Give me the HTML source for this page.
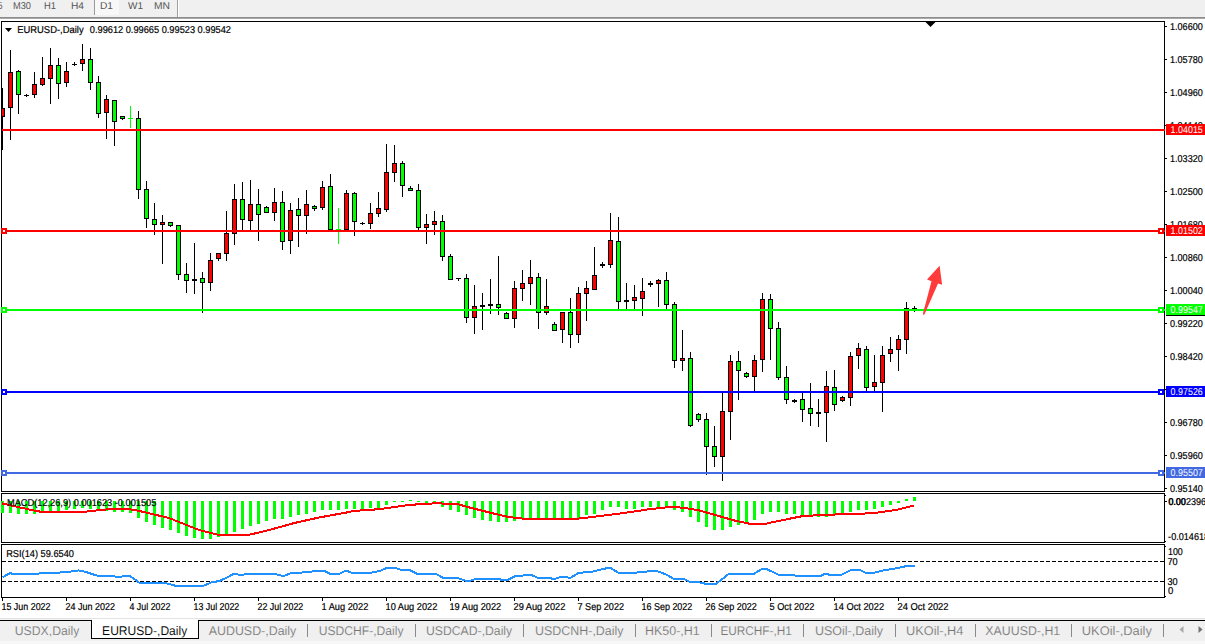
<!DOCTYPE html>
<html><head><meta charset="utf-8"><title>EURUSD-,Daily</title>
<style>html,body{margin:0;padding:0;background:#fff;overflow:hidden}body{width:1205px;height:644px;position:relative;font-family:"Liberation Sans",sans-serif}svg text{font-family:"Liberation Sans",sans-serif}</style></head>
<body>
<svg width="1205" height="644" viewBox="0 0 1205 644" style="position:absolute;left:0;top:0" font-family="Liberation Sans, sans-serif" text-rendering="geometricPrecision">
<g shape-rendering="crispEdges">
<rect x="0" y="0" width="1205" height="644" fill="#ffffff"/>
<rect x="0" y="0" width="1205" height="17" fill="#f0f0f0"/>
<rect x="0" y="17" width="1205" height="1" fill="#8c8c8c"/>
<rect x="0" y="18" width="1205" height="1" fill="#a8a8a8"/>
<rect x="95" y="0" width="24" height="15" fill="#f8f8f8"/>
<rect x="94" y="0" width="1" height="15" fill="#9a9a9a"/>
<rect x="177" y="0" width="1" height="17" fill="#a0a0a0"/>
<rect x="178" y="0" width="1" height="17" fill="#ffffff"/>
<g><rect x="2" y="88" width="1" height="62" fill="#000"/><rect x="0" y="108" width="5" height="9" fill="#000"/><rect x="1" y="109" width="3" height="7" fill="#ff0000"/><rect x="10" y="50" width="1" height="90" fill="#000"/><rect x="8" y="72" width="5" height="36" fill="#000"/><rect x="9" y="73" width="3" height="34" fill="#ff0000"/><rect x="18" y="70" width="1" height="44" fill="#000"/><rect x="16" y="71" width="5" height="24" fill="#000"/><rect x="17" y="72" width="3" height="22" fill="#00ff00"/><rect x="26" y="94" width="1" height="3" fill="#000"/><rect x="24" y="95" width="5" height="1" fill="#000"/><rect x="34" y="72" width="1" height="26" fill="#000"/><rect x="32" y="84" width="5" height="11" fill="#000"/><rect x="33" y="85" width="3" height="9" fill="#ff0000"/><rect x="42" y="57" width="1" height="29" fill="#000"/><rect x="40" y="78" width="5" height="7" fill="#000"/><rect x="41" y="79" width="3" height="5" fill="#ff0000"/><rect x="50" y="48" width="1" height="56" fill="#000"/><rect x="48" y="65" width="5" height="14" fill="#000"/><rect x="49" y="66" width="3" height="12" fill="#ff0000"/><rect x="58" y="58" width="1" height="41" fill="#000"/><rect x="56" y="65" width="5" height="19" fill="#000"/><rect x="57" y="66" width="3" height="17" fill="#00ff00"/><rect x="66" y="62" width="1" height="25" fill="#000"/><rect x="64" y="71" width="5" height="12" fill="#000"/><rect x="65" y="72" width="3" height="10" fill="#ff0000"/><rect x="74" y="62" width="1" height="4" fill="#000"/><rect x="72" y="64" width="5" height="1" fill="#000"/><rect x="82" y="44" width="1" height="27" fill="#000"/><rect x="80" y="59" width="5" height="5" fill="#000"/><rect x="81" y="60" width="3" height="3" fill="#ff0000"/><rect x="90" y="48" width="1" height="42" fill="#000"/><rect x="88" y="59" width="5" height="24" fill="#000"/><rect x="89" y="60" width="3" height="22" fill="#00ff00"/><rect x="98" y="76" width="1" height="42" fill="#000"/><rect x="96" y="82" width="5" height="32" fill="#000"/><rect x="97" y="83" width="3" height="30" fill="#00ff00"/><rect x="106" y="95" width="1" height="44" fill="#000"/><rect x="104" y="99" width="5" height="14" fill="#000"/><rect x="105" y="100" width="3" height="12" fill="#ff0000"/><rect x="114" y="100" width="1" height="46" fill="#000"/><rect x="112" y="100" width="5" height="22" fill="#000"/><rect x="113" y="101" width="3" height="20" fill="#00ff00"/><rect x="122" y="116" width="1" height="4" fill="#000"/><rect x="120" y="116" width="5" height="3" fill="#000"/><rect x="121" y="117" width="3" height="1" fill="#00ff00"/><rect x="130" y="106" width="1" height="22" fill="#00ff00"/><rect x="128" y="118" width="5" height="1" fill="#00ff00"/><rect x="138" y="111" width="1" height="88" fill="#000"/><rect x="136" y="118" width="5" height="72" fill="#000"/><rect x="137" y="119" width="3" height="70" fill="#00ff00"/><rect x="146" y="181" width="1" height="47" fill="#000"/><rect x="144" y="189" width="5" height="30" fill="#000"/><rect x="145" y="190" width="3" height="28" fill="#00ff00"/><rect x="154" y="203" width="1" height="32" fill="#000"/><rect x="152" y="219" width="5" height="6" fill="#000"/><rect x="153" y="220" width="3" height="4" fill="#00ff00"/><rect x="162" y="215" width="1" height="49" fill="#000"/><rect x="160" y="222" width="5" height="3" fill="#000"/><rect x="161" y="223" width="3" height="1" fill="#ff0000"/><rect x="170" y="222" width="1" height="5" fill="#000"/><rect x="168" y="222" width="5" height="4" fill="#000"/><rect x="169" y="223" width="3" height="2" fill="#00ff00"/><rect x="178" y="225" width="1" height="55" fill="#000"/><rect x="176" y="225" width="5" height="50" fill="#000"/><rect x="177" y="226" width="3" height="48" fill="#00ff00"/><rect x="186" y="263" width="1" height="30" fill="#000"/><rect x="184" y="274" width="5" height="7" fill="#000"/><rect x="185" y="275" width="3" height="5" fill="#00ff00"/><rect x="194" y="243" width="1" height="51" fill="#000"/><rect x="192" y="279" width="5" height="2" fill="#000"/><rect x="202" y="272" width="1" height="41" fill="#000"/><rect x="200" y="278" width="5" height="5" fill="#000"/><rect x="201" y="279" width="3" height="3" fill="#00ff00"/><rect x="210" y="253" width="1" height="38" fill="#000"/><rect x="208" y="260" width="5" height="23" fill="#000"/><rect x="209" y="261" width="3" height="21" fill="#ff0000"/><rect x="218" y="253" width="1" height="8" fill="#000"/><rect x="216" y="253" width="5" height="6" fill="#000"/><rect x="217" y="254" width="3" height="4" fill="#ff0000"/><rect x="226" y="211" width="1" height="50" fill="#000"/><rect x="224" y="233" width="5" height="21" fill="#000"/><rect x="225" y="234" width="3" height="19" fill="#ff0000"/><rect x="234" y="184" width="1" height="61" fill="#000"/><rect x="232" y="199" width="5" height="35" fill="#000"/><rect x="233" y="200" width="3" height="33" fill="#ff0000"/><rect x="242" y="182" width="1" height="48" fill="#000"/><rect x="240" y="199" width="5" height="21" fill="#000"/><rect x="241" y="200" width="3" height="19" fill="#00ff00"/><rect x="250" y="180" width="1" height="50" fill="#000"/><rect x="248" y="204" width="5" height="17" fill="#000"/><rect x="249" y="205" width="3" height="15" fill="#ff0000"/><rect x="258" y="189" width="1" height="52" fill="#000"/><rect x="256" y="204" width="5" height="11" fill="#000"/><rect x="257" y="205" width="3" height="9" fill="#00ff00"/><rect x="266" y="206" width="1" height="6" fill="#000"/><rect x="264" y="207" width="5" height="6" fill="#000"/><rect x="265" y="208" width="3" height="4" fill="#00ff00"/><rect x="274" y="188" width="1" height="33" fill="#000"/><rect x="272" y="202" width="5" height="11" fill="#000"/><rect x="273" y="203" width="3" height="9" fill="#ff0000"/><rect x="282" y="191" width="1" height="59" fill="#000"/><rect x="280" y="202" width="5" height="40" fill="#000"/><rect x="281" y="203" width="3" height="38" fill="#00ff00"/><rect x="290" y="203" width="1" height="51" fill="#000"/><rect x="288" y="210" width="5" height="31" fill="#000"/><rect x="289" y="211" width="3" height="29" fill="#ff0000"/><rect x="298" y="198" width="1" height="49" fill="#000"/><rect x="296" y="209" width="5" height="7" fill="#000"/><rect x="297" y="210" width="3" height="5" fill="#00ff00"/><rect x="306" y="190" width="1" height="44" fill="#000"/><rect x="304" y="204" width="5" height="12" fill="#000"/><rect x="305" y="205" width="3" height="10" fill="#ff0000"/><rect x="314" y="205" width="1" height="6" fill="#000"/><rect x="312" y="206" width="5" height="3" fill="#000"/><rect x="313" y="207" width="3" height="1" fill="#00ff00"/><rect x="322" y="181" width="1" height="29" fill="#000"/><rect x="320" y="187" width="5" height="21" fill="#000"/><rect x="321" y="188" width="3" height="19" fill="#ff0000"/><rect x="330" y="174" width="1" height="56" fill="#000"/><rect x="328" y="186" width="5" height="44" fill="#000"/><rect x="329" y="187" width="3" height="42" fill="#00ff00"/><rect x="338" y="208" width="1" height="36" fill="#00ff00"/><rect x="336" y="229" width="5" height="1" fill="#00ff00"/><rect x="346" y="190" width="1" height="40" fill="#000"/><rect x="344" y="193" width="5" height="37" fill="#000"/><rect x="345" y="194" width="3" height="35" fill="#ff0000"/><rect x="354" y="192" width="1" height="44" fill="#000"/><rect x="352" y="193" width="5" height="29" fill="#000"/><rect x="353" y="194" width="3" height="27" fill="#00ff00"/><rect x="362" y="222" width="1" height="3" fill="#000"/><rect x="360" y="223" width="5" height="1" fill="#000"/><rect x="370" y="203" width="1" height="26" fill="#000"/><rect x="368" y="213" width="5" height="11" fill="#000"/><rect x="369" y="214" width="3" height="9" fill="#ff0000"/><rect x="378" y="192" width="1" height="25" fill="#000"/><rect x="376" y="208" width="5" height="6" fill="#000"/><rect x="377" y="209" width="3" height="4" fill="#ff0000"/><rect x="386" y="144" width="1" height="68" fill="#000"/><rect x="384" y="172" width="5" height="38" fill="#000"/><rect x="385" y="173" width="3" height="36" fill="#ff0000"/><rect x="394" y="145" width="1" height="37" fill="#000"/><rect x="392" y="163" width="5" height="10" fill="#000"/><rect x="393" y="164" width="3" height="8" fill="#ff0000"/><rect x="402" y="161" width="1" height="36" fill="#000"/><rect x="400" y="163" width="5" height="23" fill="#000"/><rect x="401" y="164" width="3" height="21" fill="#00ff00"/><rect x="410" y="186" width="1" height="4" fill="#000"/><rect x="408" y="188" width="5" height="3" fill="#000"/><rect x="409" y="189" width="3" height="1" fill="#00ff00"/><rect x="418" y="184" width="1" height="46" fill="#000"/><rect x="416" y="190" width="5" height="38" fill="#000"/><rect x="417" y="191" width="3" height="36" fill="#00ff00"/><rect x="426" y="214" width="1" height="30" fill="#000"/><rect x="424" y="224" width="5" height="4" fill="#000"/><rect x="425" y="225" width="3" height="2" fill="#ff0000"/><rect x="434" y="211" width="1" height="24" fill="#000"/><rect x="432" y="221" width="5" height="4" fill="#000"/><rect x="433" y="222" width="3" height="2" fill="#ff0000"/><rect x="442" y="215" width="1" height="46" fill="#000"/><rect x="440" y="221" width="5" height="36" fill="#000"/><rect x="441" y="222" width="3" height="34" fill="#00ff00"/><rect x="450" y="254" width="1" height="26" fill="#000"/><rect x="448" y="256" width="5" height="24" fill="#000"/><rect x="449" y="257" width="3" height="22" fill="#00ff00"/><rect x="458" y="279" width="1" height="2" fill="#000"/><rect x="456" y="278" width="5" height="1" fill="#000"/><rect x="466" y="274" width="1" height="49" fill="#000"/><rect x="464" y="278" width="5" height="40" fill="#000"/><rect x="465" y="279" width="3" height="38" fill="#00ff00"/><rect x="474" y="285" width="1" height="49" fill="#000"/><rect x="472" y="306" width="5" height="12" fill="#000"/><rect x="473" y="307" width="3" height="10" fill="#ff0000"/><rect x="482" y="293" width="1" height="37" fill="#000"/><rect x="480" y="305" width="5" height="2" fill="#000"/><rect x="490" y="279" width="1" height="35" fill="#000"/><rect x="488" y="304" width="5" height="2" fill="#000"/><rect x="498" y="256" width="1" height="59" fill="#000"/><rect x="496" y="304" width="5" height="4" fill="#000"/><rect x="497" y="305" width="3" height="2" fill="#00ff00"/><rect x="506" y="312" width="1" height="7" fill="#000"/><rect x="504" y="313" width="5" height="6" fill="#000"/><rect x="505" y="314" width="3" height="4" fill="#00ff00"/><rect x="514" y="281" width="1" height="47" fill="#000"/><rect x="512" y="288" width="5" height="31" fill="#000"/><rect x="513" y="289" width="3" height="29" fill="#ff0000"/><rect x="522" y="270" width="1" height="31" fill="#000"/><rect x="520" y="283" width="5" height="6" fill="#000"/><rect x="521" y="284" width="3" height="4" fill="#ff0000"/><rect x="530" y="260" width="1" height="45" fill="#000"/><rect x="528" y="277" width="5" height="7" fill="#000"/><rect x="529" y="278" width="3" height="5" fill="#ff0000"/><rect x="538" y="273" width="1" height="56" fill="#000"/><rect x="536" y="277" width="5" height="36" fill="#000"/><rect x="537" y="278" width="3" height="34" fill="#00ff00"/><rect x="546" y="279" width="1" height="36" fill="#000"/><rect x="544" y="306" width="5" height="7" fill="#000"/><rect x="545" y="307" width="3" height="5" fill="#ff0000"/><rect x="554" y="322" width="1" height="9" fill="#000"/><rect x="552" y="324" width="5" height="7" fill="#000"/><rect x="553" y="325" width="3" height="5" fill="#00ff00"/><rect x="562" y="312" width="1" height="31" fill="#000"/><rect x="560" y="312" width="5" height="18" fill="#000"/><rect x="561" y="313" width="3" height="16" fill="#ff0000"/><rect x="570" y="298" width="1" height="50" fill="#000"/><rect x="568" y="312" width="5" height="23" fill="#000"/><rect x="569" y="313" width="3" height="21" fill="#00ff00"/><rect x="578" y="287" width="1" height="56" fill="#000"/><rect x="576" y="293" width="5" height="42" fill="#000"/><rect x="577" y="294" width="3" height="40" fill="#ff0000"/><rect x="586" y="281" width="1" height="40" fill="#000"/><rect x="584" y="288" width="5" height="6" fill="#000"/><rect x="585" y="289" width="3" height="4" fill="#ff0000"/><rect x="594" y="247" width="1" height="43" fill="#000"/><rect x="592" y="275" width="5" height="15" fill="#000"/><rect x="593" y="276" width="3" height="13" fill="#ff0000"/><rect x="602" y="262" width="1" height="6" fill="#000"/><rect x="600" y="264" width="5" height="2" fill="#000"/><rect x="610" y="213" width="1" height="55" fill="#000"/><rect x="608" y="240" width="5" height="25" fill="#000"/><rect x="609" y="241" width="3" height="23" fill="#ff0000"/><rect x="618" y="217" width="1" height="92" fill="#000"/><rect x="616" y="241" width="5" height="61" fill="#000"/><rect x="617" y="242" width="3" height="59" fill="#00ff00"/><rect x="626" y="283" width="1" height="26" fill="#000"/><rect x="624" y="300" width="5" height="2" fill="#000"/><rect x="634" y="285" width="1" height="24" fill="#000"/><rect x="632" y="297" width="5" height="4" fill="#000"/><rect x="633" y="298" width="3" height="2" fill="#ff0000"/><rect x="642" y="278" width="1" height="38" fill="#000"/><rect x="640" y="291" width="5" height="8" fill="#000"/><rect x="641" y="292" width="3" height="6" fill="#ff0000"/><rect x="650" y="281" width="1" height="6" fill="#000"/><rect x="648" y="283" width="5" height="2" fill="#000"/><rect x="658" y="279" width="1" height="28" fill="#000"/><rect x="656" y="280" width="5" height="4" fill="#000"/><rect x="657" y="281" width="3" height="2" fill="#ff0000"/><rect x="666" y="272" width="1" height="37" fill="#000"/><rect x="664" y="280" width="5" height="25" fill="#000"/><rect x="665" y="281" width="3" height="23" fill="#00ff00"/><rect x="674" y="302" width="1" height="66" fill="#000"/><rect x="672" y="304" width="5" height="57" fill="#000"/><rect x="673" y="305" width="3" height="55" fill="#00ff00"/><rect x="682" y="330" width="1" height="41" fill="#000"/><rect x="680" y="358" width="5" height="3" fill="#000"/><rect x="681" y="359" width="3" height="1" fill="#ff0000"/><rect x="690" y="352" width="1" height="75" fill="#000"/><rect x="688" y="358" width="5" height="68" fill="#000"/><rect x="689" y="359" width="3" height="66" fill="#00ff00"/><rect x="698" y="413" width="1" height="9" fill="#000"/><rect x="696" y="414" width="5" height="6" fill="#000"/><rect x="697" y="415" width="3" height="4" fill="#00ff00"/><rect x="706" y="413" width="1" height="62" fill="#000"/><rect x="704" y="419" width="5" height="28" fill="#000"/><rect x="705" y="420" width="3" height="26" fill="#00ff00"/><rect x="714" y="426" width="1" height="41" fill="#000"/><rect x="712" y="446" width="5" height="11" fill="#000"/><rect x="713" y="447" width="3" height="9" fill="#00ff00"/><rect x="722" y="392" width="1" height="89" fill="#000"/><rect x="720" y="411" width="5" height="46" fill="#000"/><rect x="721" y="412" width="3" height="44" fill="#ff0000"/><rect x="730" y="355" width="1" height="85" fill="#000"/><rect x="728" y="361" width="5" height="51" fill="#000"/><rect x="729" y="362" width="3" height="49" fill="#ff0000"/><rect x="738" y="351" width="1" height="49" fill="#000"/><rect x="736" y="361" width="5" height="10" fill="#000"/><rect x="737" y="362" width="3" height="8" fill="#00ff00"/><rect x="746" y="372" width="1" height="6" fill="#000"/><rect x="744" y="373" width="5" height="4" fill="#000"/><rect x="745" y="374" width="3" height="2" fill="#00ff00"/><rect x="754" y="355" width="1" height="36" fill="#000"/><rect x="752" y="360" width="5" height="17" fill="#000"/><rect x="753" y="361" width="3" height="15" fill="#ff0000"/><rect x="762" y="293" width="1" height="79" fill="#000"/><rect x="760" y="299" width="5" height="61" fill="#000"/><rect x="761" y="300" width="3" height="59" fill="#ff0000"/><rect x="770" y="294" width="1" height="66" fill="#000"/><rect x="768" y="299" width="5" height="30" fill="#000"/><rect x="769" y="300" width="3" height="28" fill="#00ff00"/><rect x="778" y="322" width="1" height="58" fill="#000"/><rect x="776" y="328" width="5" height="50" fill="#000"/><rect x="777" y="329" width="3" height="48" fill="#00ff00"/><rect x="786" y="366" width="1" height="38" fill="#000"/><rect x="784" y="377" width="5" height="23" fill="#000"/><rect x="785" y="378" width="3" height="21" fill="#00ff00"/><rect x="794" y="399" width="1" height="4" fill="#000"/><rect x="792" y="400" width="5" height="2" fill="#000"/><rect x="802" y="392" width="1" height="30" fill="#000"/><rect x="800" y="399" width="5" height="11" fill="#000"/><rect x="801" y="400" width="3" height="9" fill="#00ff00"/><rect x="810" y="383" width="1" height="43" fill="#000"/><rect x="808" y="408" width="5" height="6" fill="#000"/><rect x="809" y="409" width="3" height="4" fill="#00ff00"/><rect x="818" y="399" width="1" height="28" fill="#000"/><rect x="816" y="412" width="5" height="2" fill="#000"/><rect x="826" y="371" width="1" height="71" fill="#000"/><rect x="824" y="386" width="5" height="27" fill="#000"/><rect x="825" y="387" width="3" height="25" fill="#ff0000"/><rect x="834" y="370" width="1" height="41" fill="#000"/><rect x="832" y="387" width="5" height="18" fill="#000"/><rect x="833" y="388" width="3" height="16" fill="#00ff00"/><rect x="842" y="396" width="1" height="6" fill="#000"/><rect x="840" y="397" width="5" height="4" fill="#000"/><rect x="841" y="398" width="3" height="2" fill="#ff0000"/><rect x="850" y="352" width="1" height="54" fill="#000"/><rect x="848" y="356" width="5" height="42" fill="#000"/><rect x="849" y="357" width="3" height="40" fill="#ff0000"/><rect x="858" y="343" width="1" height="26" fill="#000"/><rect x="856" y="348" width="5" height="8" fill="#000"/><rect x="857" y="349" width="3" height="6" fill="#ff0000"/><rect x="866" y="346" width="1" height="45" fill="#000"/><rect x="864" y="349" width="5" height="39" fill="#000"/><rect x="865" y="350" width="3" height="37" fill="#00ff00"/><rect x="874" y="355" width="1" height="36" fill="#000"/><rect x="872" y="382" width="5" height="5" fill="#000"/><rect x="873" y="383" width="3" height="3" fill="#ff0000"/><rect x="882" y="346" width="1" height="66" fill="#000"/><rect x="880" y="355" width="5" height="28" fill="#000"/><rect x="881" y="356" width="3" height="26" fill="#ff0000"/><rect x="890" y="337" width="1" height="25" fill="#000"/><rect x="888" y="349" width="5" height="5" fill="#000"/><rect x="889" y="350" width="3" height="3" fill="#ff0000"/><rect x="898" y="335" width="1" height="36" fill="#000"/><rect x="896" y="339" width="5" height="11" fill="#000"/><rect x="897" y="340" width="3" height="9" fill="#ff0000"/><rect x="906" y="302" width="1" height="52" fill="#000"/><rect x="904" y="308" width="5" height="32" fill="#000"/><rect x="905" y="309" width="3" height="30" fill="#ff0000"/><rect x="914" y="306" width="1" height="6" fill="#000"/><rect x="912" y="308" width="5" height="1" fill="#000"/></g>
<rect x="0" y="19" width="1" height="600" fill="#fff"/>
<rect x="1" y="21" width="1164" height="1" fill="#000"/><rect x="1" y="491" width="1164" height="1" fill="#000"/><rect x="1" y="21" width="1" height="471" fill="#000"/><rect x="1164" y="21" width="1" height="471" fill="#000"/>
<rect x="1" y="493" width="1164" height="1" fill="#000"/><rect x="1" y="542" width="1164" height="1" fill="#000"/><rect x="1" y="493" width="1" height="50" fill="#000"/><rect x="1164" y="493" width="1" height="50" fill="#000"/>
<rect x="1" y="544" width="1164" height="1" fill="#000"/><rect x="1" y="597" width="1164" height="1" fill="#000"/><rect x="1" y="544" width="1" height="54" fill="#000"/><rect x="1164" y="544" width="1" height="54" fill="#000"/>
<rect x="1165" y="21" width="40" height="1" fill="#fff"/>
<rect x="2" y="129" width="1163" height="2" fill="#ff0000"/>
<rect x="2" y="230" width="1163" height="2" fill="#ff0000"/>
<rect x="2" y="309" width="1163" height="2" fill="#00ff00"/>
<rect x="2" y="391" width="1163" height="2" fill="#0000ff"/>
<rect x="2" y="472" width="1163" height="2" fill="#4169e1"/>
<rect x="1" y="228" width="6" height="6" fill="#ff0000"/>
<rect x="3" y="230" width="2" height="2" fill="#fff"/>
<rect x="1158" y="228" width="6" height="6" fill="#ff0000"/>
<rect x="1160" y="230" width="2" height="2" fill="#fff"/>
<rect x="1" y="307" width="6" height="6" fill="#00ff00"/>
<rect x="3" y="309" width="2" height="2" fill="#fff"/>
<rect x="1158" y="307" width="6" height="6" fill="#00ff00"/>
<rect x="1160" y="309" width="2" height="2" fill="#fff"/>
<rect x="1" y="389" width="6" height="6" fill="#0000ff"/>
<rect x="3" y="391" width="2" height="2" fill="#fff"/>
<rect x="1158" y="389" width="6" height="6" fill="#0000ff"/>
<rect x="1160" y="391" width="2" height="2" fill="#fff"/>
<rect x="1" y="470" width="6" height="6" fill="#4169e1"/>
<rect x="3" y="472" width="2" height="2" fill="#fff"/>
<rect x="1158" y="470" width="6" height="6" fill="#4169e1"/>
<rect x="1160" y="472" width="2" height="2" fill="#fff"/>
<g><rect x="1" y="501" width="3" height="12" fill="#00ff00"/><rect x="9" y="501" width="3" height="12" fill="#00ff00"/><rect x="17" y="501" width="3" height="13" fill="#00ff00"/><rect x="25" y="501" width="3" height="13" fill="#00ff00"/><rect x="33" y="501" width="3" height="13" fill="#00ff00"/><rect x="41" y="501" width="3" height="11" fill="#00ff00"/><rect x="49" y="501" width="3" height="10" fill="#00ff00"/><rect x="57" y="501" width="3" height="10" fill="#00ff00"/><rect x="65" y="501" width="3" height="9" fill="#00ff00"/><rect x="73" y="501" width="3" height="8" fill="#00ff00"/><rect x="81" y="501" width="3" height="7" fill="#00ff00"/><rect x="89" y="501" width="3" height="8" fill="#00ff00"/><rect x="97" y="501" width="3" height="9" fill="#00ff00"/><rect x="105" y="501" width="3" height="10" fill="#00ff00"/><rect x="113" y="501" width="3" height="11" fill="#00ff00"/><rect x="121" y="501" width="3" height="11" fill="#00ff00"/><rect x="129" y="501" width="3" height="12" fill="#00ff00"/><rect x="137" y="501" width="3" height="17" fill="#00ff00"/><rect x="145" y="501" width="3" height="21" fill="#00ff00"/><rect x="153" y="501" width="3" height="24" fill="#00ff00"/><rect x="161" y="501" width="3" height="27" fill="#00ff00"/><rect x="169" y="501" width="3" height="29" fill="#00ff00"/><rect x="177" y="501" width="3" height="32" fill="#00ff00"/><rect x="185" y="501" width="3" height="35" fill="#00ff00"/><rect x="193" y="501" width="3" height="37" fill="#00ff00"/><rect x="201" y="501" width="3" height="38" fill="#00ff00"/><rect x="209" y="501" width="3" height="38" fill="#00ff00"/><rect x="217" y="501" width="3" height="36" fill="#00ff00"/><rect x="225" y="501" width="3" height="33" fill="#00ff00"/><rect x="233" y="501" width="3" height="31" fill="#00ff00"/><rect x="241" y="501" width="3" height="28" fill="#00ff00"/><rect x="249" y="501" width="3" height="25" fill="#00ff00"/><rect x="257" y="501" width="3" height="23" fill="#00ff00"/><rect x="265" y="501" width="3" height="20" fill="#00ff00"/><rect x="273" y="501" width="3" height="18" fill="#00ff00"/><rect x="281" y="501" width="3" height="18" fill="#00ff00"/><rect x="289" y="501" width="3" height="16" fill="#00ff00"/><rect x="297" y="501" width="3" height="14" fill="#00ff00"/><rect x="305" y="501" width="3" height="13" fill="#00ff00"/><rect x="313" y="501" width="3" height="11" fill="#00ff00"/><rect x="321" y="501" width="3" height="9" fill="#00ff00"/><rect x="329" y="501" width="3" height="9" fill="#00ff00"/><rect x="337" y="501" width="3" height="9" fill="#00ff00"/><rect x="345" y="501" width="3" height="8" fill="#00ff00"/><rect x="353" y="501" width="3" height="8" fill="#00ff00"/><rect x="361" y="501" width="3" height="8" fill="#00ff00"/><rect x="369" y="501" width="3" height="7" fill="#00ff00"/><rect x="377" y="501" width="3" height="7" fill="#00ff00"/><rect x="385" y="501" width="3" height="4" fill="#00ff00"/><rect x="393" y="501" width="3" height="1" fill="#00ff00"/><rect x="401" y="501" width="3" height="1" fill="#00ff00"/><rect x="409" y="500" width="3" height="1" fill="#00ff00"/><rect x="417" y="501" width="3" height="1" fill="#00ff00"/><rect x="425" y="501" width="3" height="2" fill="#00ff00"/><rect x="433" y="501" width="3" height="3" fill="#00ff00"/><rect x="441" y="501" width="3" height="6" fill="#00ff00"/><rect x="449" y="501" width="3" height="9" fill="#00ff00"/><rect x="457" y="501" width="3" height="11" fill="#00ff00"/><rect x="465" y="501" width="3" height="14" fill="#00ff00"/><rect x="473" y="501" width="3" height="17" fill="#00ff00"/><rect x="481" y="501" width="3" height="19" fill="#00ff00"/><rect x="489" y="501" width="3" height="20" fill="#00ff00"/><rect x="497" y="501" width="3" height="21" fill="#00ff00"/><rect x="505" y="501" width="3" height="21" fill="#00ff00"/><rect x="513" y="501" width="3" height="20" fill="#00ff00"/><rect x="521" y="501" width="3" height="18" fill="#00ff00"/><rect x="529" y="501" width="3" height="17" fill="#00ff00"/><rect x="537" y="501" width="3" height="17" fill="#00ff00"/><rect x="545" y="501" width="3" height="17" fill="#00ff00"/><rect x="553" y="501" width="3" height="17" fill="#00ff00"/><rect x="561" y="501" width="3" height="17" fill="#00ff00"/><rect x="569" y="501" width="3" height="18" fill="#00ff00"/><rect x="577" y="501" width="3" height="17" fill="#00ff00"/><rect x="585" y="501" width="3" height="14" fill="#00ff00"/><rect x="593" y="501" width="3" height="13" fill="#00ff00"/><rect x="601" y="501" width="3" height="9" fill="#00ff00"/><rect x="609" y="501" width="3" height="6" fill="#00ff00"/><rect x="617" y="501" width="3" height="6" fill="#00ff00"/><rect x="625" y="501" width="3" height="8" fill="#00ff00"/><rect x="633" y="501" width="3" height="8" fill="#00ff00"/><rect x="641" y="501" width="3" height="6" fill="#00ff00"/><rect x="649" y="501" width="3" height="6" fill="#00ff00"/><rect x="657" y="501" width="3" height="6" fill="#00ff00"/><rect x="665" y="501" width="3" height="6" fill="#00ff00"/><rect x="673" y="501" width="3" height="9" fill="#00ff00"/><rect x="681" y="501" width="3" height="11" fill="#00ff00"/><rect x="689" y="501" width="3" height="16" fill="#00ff00"/><rect x="697" y="501" width="3" height="21" fill="#00ff00"/><rect x="705" y="501" width="3" height="26" fill="#00ff00"/><rect x="713" y="501" width="3" height="29" fill="#00ff00"/><rect x="721" y="501" width="3" height="29" fill="#00ff00"/><rect x="729" y="501" width="3" height="26" fill="#00ff00"/><rect x="737" y="501" width="3" height="24" fill="#00ff00"/><rect x="745" y="501" width="3" height="22" fill="#00ff00"/><rect x="753" y="501" width="3" height="19" fill="#00ff00"/><rect x="761" y="501" width="3" height="13" fill="#00ff00"/><rect x="769" y="501" width="3" height="11" fill="#00ff00"/><rect x="777" y="501" width="3" height="11" fill="#00ff00"/><rect x="785" y="501" width="3" height="13" fill="#00ff00"/><rect x="793" y="501" width="3" height="13" fill="#00ff00"/><rect x="801" y="501" width="3" height="14" fill="#00ff00"/><rect x="809" y="501" width="3" height="14" fill="#00ff00"/><rect x="817" y="501" width="3" height="16" fill="#00ff00"/><rect x="825" y="501" width="3" height="16" fill="#00ff00"/><rect x="833" y="501" width="3" height="14" fill="#00ff00"/><rect x="841" y="501" width="3" height="13" fill="#00ff00"/><rect x="849" y="501" width="3" height="11" fill="#00ff00"/><rect x="857" y="501" width="3" height="9" fill="#00ff00"/><rect x="865" y="501" width="3" height="9" fill="#00ff00"/><rect x="873" y="501" width="3" height="8" fill="#00ff00"/><rect x="881" y="501" width="3" height="6" fill="#00ff00"/><rect x="889" y="501" width="3" height="4" fill="#00ff00"/><rect x="897" y="501" width="3" height="2" fill="#00ff00"/><rect x="905" y="499" width="3" height="2" fill="#00ff00"/><rect x="913" y="497" width="3" height="4" fill="#00ff00"/></g>
<line x1="2" x2="1164" y1="561.5" y2="561.5" stroke="#000" stroke-width="1" stroke-dasharray="3.5 2.5"/>
<line x1="2" x2="1164" y1="581.5" y2="581.5" stroke="#000" stroke-width="1" stroke-dasharray="3.5 2.5"/>
<rect x="1165" y="26" width="2" height="1" fill="#000"/>
<rect x="1165" y="59" width="2" height="1" fill="#000"/>
<rect x="1165" y="92" width="2" height="1" fill="#000"/>
<rect x="1165" y="125" width="2" height="1" fill="#000"/>
<rect x="1165" y="158" width="2" height="1" fill="#000"/>
<rect x="1165" y="191" width="2" height="1" fill="#000"/>
<rect x="1165" y="224" width="2" height="1" fill="#000"/>
<rect x="1165" y="257" width="2" height="1" fill="#000"/>
<rect x="1165" y="290" width="2" height="1" fill="#000"/>
<rect x="1165" y="323" width="2" height="1" fill="#000"/>
<rect x="1165" y="356" width="2" height="1" fill="#000"/>
<rect x="1165" y="389" width="2" height="1" fill="#000"/>
<rect x="1165" y="422" width="2" height="1" fill="#000"/>
<rect x="1165" y="455" width="2" height="1" fill="#000"/>
<rect x="1165" y="488" width="2" height="1" fill="#000"/>
<rect x="1165" y="495" width="1" height="1" fill="#000"/>
<rect x="1165" y="541" width="1" height="1" fill="#000"/>
<rect x="1165" y="546" width="1" height="1" fill="#000"/>
<rect x="1165" y="596" width="1" height="1" fill="#000"/>
<rect x="1165" y="501" width="2" height="1" fill="#000"/>
<rect x="2" y="598" width="1" height="3" fill="#000"/>
<rect x="66" y="598" width="1" height="3" fill="#000"/>
<rect x="130" y="598" width="1" height="3" fill="#000"/>
<rect x="194" y="598" width="1" height="3" fill="#000"/>
<rect x="258" y="598" width="1" height="3" fill="#000"/>
<rect x="322" y="598" width="1" height="3" fill="#000"/>
<rect x="386" y="598" width="1" height="3" fill="#000"/>
<rect x="450" y="598" width="1" height="3" fill="#000"/>
<rect x="514" y="598" width="1" height="3" fill="#000"/>
<rect x="578" y="598" width="1" height="3" fill="#000"/>
<rect x="642" y="598" width="1" height="3" fill="#000"/>
<rect x="706" y="598" width="1" height="3" fill="#000"/>
<rect x="770" y="598" width="1" height="3" fill="#000"/>
<rect x="834" y="598" width="1" height="3" fill="#000"/>
<rect x="898" y="598" width="1" height="3" fill="#000"/>
<rect x="1166" y="124" width="39" height="11" fill="#ff0000"/>
<rect x="1166" y="225" width="39" height="11" fill="#ff0000"/>
<rect x="1166" y="305" width="39" height="11" fill="#000"/>
<rect x="1166" y="304" width="39" height="11" fill="#00ff00"/>
<rect x="1166" y="386" width="39" height="11" fill="#0000ff"/>
<rect x="1166" y="467" width="39" height="11" fill="#4169e1"/>
</g>
<polygon points="925.5,22 935.5,22 930.5,27" fill="#000"/>
<polygon points="5,28 12,28 8.5,32" fill="#000"/>
<polygon points="939.6,265.7 927,279.5 931.5,281.2 922.9,313.8 923.3,314.7 924.4,314.5 938,283.6 942.1,284.7" fill="#ff3b3b"/>
<polyline points="2,503.4 36,511 43,512 82,512 108,509.3 130,509.3 139.4,511 169,518 199,530 219,535 250,534.6 270,529.8 294.7,522.9 319.6,517.4 344.5,512.9 354.4,510.9 379,509.2 409,504.9 434,503.4 456.5,503.7 469,507.4 493.8,513.6 508.8,517 522.4,518.6 578.4,518.6 599.6,516.1 624.5,512.9 649.4,509.2 671.8,506.7 684.2,507.9 699.2,510.4 716.6,515.4 734,520.4 749,523.6 766.4,523.6 778.8,520.9 802.4,516.1 829.8,514.6 857,514.1 879.6,512.4 897,509.7 914.4,505.4" fill="none" stroke="#ff0000" stroke-width="2" stroke-linejoin="round" shape-rendering="crispEdges"/>
<polyline points="2.5,577.3 10,573.1 15,574.4 32.4,574.4 43.6,572.9 64.7,572.4 78.4,570.4 84.6,571.6 97,575.6 109.5,576.1 119.5,576.8 129.5,575.6 139.4,582.8 164.3,582.8 176.8,586.1 202.9,586.1 211.6,582.3 219,581.1 226.5,577.8 234,573.6 240.2,574.9 254,573.6 273.8,573.6 281.3,575.6 285,575.6 291.2,572.9 304.9,572.4 319.8,570.6 323.5,570.6 329.8,573.6 339.7,573.6 346,570.6 352.2,572.9 369.6,572.9 379.6,571.1 387,567.9 395.8,567.9 400.7,569.9 409.4,569.9 416.9,573.6 435.6,573.6 443,577.8 456.7,577.8 465.5,580.6 470.5,580.6 476.7,578.6 496.6,578.6 501.6,579.8 507.8,579.8 515.3,576.1 521.5,576.1 525.2,574.9 531.4,574.9 537.7,577.8 548.9,577.8 553.8,579.1 561.3,576.8 565,576.8 570,578.1 578.7,572.9 592.4,571.6 607.3,568.1 611,568.1 618.5,572.9 642.2,572.4 652.1,570.6 657,571.1 667,574.9 673.3,578.6 683.2,578.6 689.4,581.8 699.4,582.3 706.9,584.1 715.6,584.1 729.3,573.6 754.2,573.6 761.6,569.1 766.6,569.1 779,574.9 794,574.9 796.5,576.1 820.1,576.1 825.1,573.6 830,574.9 841.3,574.9 851.3,569.9 860,569.9 866,572.9 873.6,572.9 883.6,570.4 897.3,568.1 908.5,565.6 914.7,565.6" fill="none" stroke="#1e90ff" stroke-width="2" stroke-linejoin="round" shape-rendering="crispEdges"/>
<text x="1170" y="30" font-size="10" fill="#000" stroke="#000" stroke-width="0.2" textLength="32.8" lengthAdjust="spacingAndGlyphs">1.06600</text>
<text x="1170" y="63" font-size="10" fill="#000" stroke="#000" stroke-width="0.2" textLength="32.8" lengthAdjust="spacingAndGlyphs">1.05780</text>
<text x="1170" y="96" font-size="10" fill="#000" stroke="#000" stroke-width="0.2" textLength="32.8" lengthAdjust="spacingAndGlyphs">1.04960</text>
<text x="1170" y="129" font-size="10" fill="#000" stroke="#000" stroke-width="0.2" textLength="32.8" lengthAdjust="spacingAndGlyphs">1.04140</text>
<text x="1170" y="162" font-size="10" fill="#000" stroke="#000" stroke-width="0.2" textLength="32.8" lengthAdjust="spacingAndGlyphs">1.03320</text>
<text x="1170" y="195" font-size="10" fill="#000" stroke="#000" stroke-width="0.2" textLength="32.8" lengthAdjust="spacingAndGlyphs">1.02500</text>
<text x="1170" y="228" font-size="10" fill="#000" stroke="#000" stroke-width="0.2" textLength="32.8" lengthAdjust="spacingAndGlyphs">1.01680</text>
<text x="1170" y="261" font-size="10" fill="#000" stroke="#000" stroke-width="0.2" textLength="32.8" lengthAdjust="spacingAndGlyphs">1.00860</text>
<text x="1170" y="294" font-size="10" fill="#000" stroke="#000" stroke-width="0.2" textLength="32.8" lengthAdjust="spacingAndGlyphs">1.00040</text>
<text x="1170" y="327" font-size="10" fill="#000" stroke="#000" stroke-width="0.2" textLength="32.8" lengthAdjust="spacingAndGlyphs">0.99220</text>
<text x="1170" y="360" font-size="10" fill="#000" stroke="#000" stroke-width="0.2" textLength="32.8" lengthAdjust="spacingAndGlyphs">0.98420</text>
<text x="1170" y="426" font-size="10" fill="#000" stroke="#000" stroke-width="0.2" textLength="32.8" lengthAdjust="spacingAndGlyphs">0.96780</text>
<text x="1170" y="459" font-size="10" fill="#000" stroke="#000" stroke-width="0.2" textLength="32.8" lengthAdjust="spacingAndGlyphs">0.95960</text>
<text x="1170" y="492" font-size="10" fill="#000" stroke="#000" stroke-width="0.2" textLength="32.8" lengthAdjust="spacingAndGlyphs">0.95140</text>
<g shape-rendering="crispEdges">
<rect x="1166" y="124" width="39" height="11" fill="#ff0000"/>
<rect x="1166" y="225" width="39" height="11" fill="#ff0000"/>
<rect x="1166" y="305" width="39" height="11" fill="#000"/>
<rect x="1166" y="304" width="39" height="11" fill="#00ff00"/>
<rect x="1166" y="386" width="39" height="11" fill="#0000ff"/>
<rect x="1166" y="467" width="39" height="11" fill="#4169e1"/>
</g>
<text x="1170.6" y="133" font-size="10" fill="#fff" textLength="32.2" lengthAdjust="spacingAndGlyphs">1.04015</text>
<text x="1170.6" y="234" font-size="10" fill="#fff" textLength="32.2" lengthAdjust="spacingAndGlyphs">1.01502</text>
<text x="1170.6" y="313" font-size="10" fill="#fff" textLength="32.2" lengthAdjust="spacingAndGlyphs">0.99547</text>
<text x="1170.6" y="395" font-size="10" fill="#fff" textLength="32.2" lengthAdjust="spacingAndGlyphs">0.97526</text>
<text x="1170.6" y="476" font-size="10" fill="#fff" textLength="32.2" lengthAdjust="spacingAndGlyphs">0.95507</text>
<text x="1168.3" y="505" font-size="10" fill="#000" stroke="#000" stroke-width="0.2" textLength="37.8" lengthAdjust="spacingAndGlyphs">0.002396</text>
<text x="1168.8" y="505" font-size="10" fill="#000" stroke="#000" stroke-width="0.2" textLength="16.8" lengthAdjust="spacingAndGlyphs">0.00</text>
<text x="1168.1" y="540" font-size="10" fill="#000" stroke="#000" stroke-width="0.2" textLength="41" lengthAdjust="spacingAndGlyphs">-0.014618</text>
<text x="1168" y="555" font-size="10" fill="#000" stroke="#000" stroke-width="0.2" textLength="14.8" lengthAdjust="spacingAndGlyphs">100</text>
<text x="1167.4" y="565" font-size="10" fill="#000" stroke="#000" stroke-width="0.2" textLength="10.2" lengthAdjust="spacingAndGlyphs">70</text>
<text x="1167.4" y="585" font-size="10" fill="#000" stroke="#000" stroke-width="0.2" textLength="10.2" lengthAdjust="spacingAndGlyphs">30</text>
<text x="1168.1" y="594" font-size="10" fill="#000" stroke="#000" stroke-width="0.2" textLength="5.3" lengthAdjust="spacingAndGlyphs">0</text>
<text x="17.2" y="33" font-size="10" fill="#000" stroke="#000" stroke-width="0.2" textLength="66.4" lengthAdjust="spacingAndGlyphs">EURUSD-,Daily</text>
<text x="89.8" y="33" font-size="10" fill="#000" stroke="#000" stroke-width="0.2" textLength="141.2" lengthAdjust="spacingAndGlyphs">0.99612 0.99665 0.99523 0.99542</text>
<text x="7" y="506" font-size="10" fill="#000" stroke="#000" stroke-width="0.2" textLength="149.4" lengthAdjust="spacingAndGlyphs">MACD(12,26,9) 0.001623 -0.001505</text>
<text x="6.2" y="557" font-size="10" fill="#000" stroke="#000" stroke-width="0.2" textLength="67.8" lengthAdjust="spacingAndGlyphs">RSI(14) 59.6540</text>
<text x="-2" y="9" font-size="10" fill="#555" textLength="4.5" lengthAdjust="spacingAndGlyphs">5</text>
<text x="13" y="9" font-size="10" fill="#555" textLength="18" lengthAdjust="spacingAndGlyphs">M30</text>
<text x="44" y="9" font-size="10" fill="#555" textLength="12" lengthAdjust="spacingAndGlyphs">H1</text>
<text x="71" y="9" font-size="10" fill="#555" textLength="13" lengthAdjust="spacingAndGlyphs">H4</text>
<text x="100" y="9" font-size="10" fill="#555" textLength="13" lengthAdjust="spacingAndGlyphs">D1</text>
<text x="128" y="9" font-size="10" fill="#555" textLength="15" lengthAdjust="spacingAndGlyphs">W1</text>
<text x="154" y="9" font-size="10" fill="#555" textLength="16" lengthAdjust="spacingAndGlyphs">MN</text>
<text x="1.5" y="610" font-size="10" fill="#000" stroke="#000" stroke-width="0.2" textLength="49" lengthAdjust="spacingAndGlyphs">15 Jun 2022</text>
<text x="65.5" y="610" font-size="10" fill="#000" stroke="#000" stroke-width="0.2" textLength="49.5" lengthAdjust="spacingAndGlyphs">24 Jun 2022</text>
<text x="129.5" y="610" font-size="10" fill="#000" stroke="#000" stroke-width="0.2" textLength="40.8" lengthAdjust="spacingAndGlyphs">4 Jul 2022</text>
<text x="193.5" y="610" font-size="10" fill="#000" stroke="#000" stroke-width="0.2" textLength="45.8" lengthAdjust="spacingAndGlyphs">13 Jul 2022</text>
<text x="257.5" y="610" font-size="10" fill="#000" stroke="#000" stroke-width="0.2" textLength="45.8" lengthAdjust="spacingAndGlyphs">22 Jul 2022</text>
<text x="321.5" y="610" font-size="10" fill="#000" stroke="#000" stroke-width="0.2" textLength="46.8" lengthAdjust="spacingAndGlyphs">1 Aug 2022</text>
<text x="385.5" y="610" font-size="10" fill="#000" stroke="#000" stroke-width="0.2" textLength="51.8" lengthAdjust="spacingAndGlyphs">10 Aug 2022</text>
<text x="449.5" y="610" font-size="10" fill="#000" stroke="#000" stroke-width="0.2" textLength="51.6" lengthAdjust="spacingAndGlyphs">19 Aug 2022</text>
<text x="513.5" y="610" font-size="10" fill="#000" stroke="#000" stroke-width="0.2" textLength="51.8" lengthAdjust="spacingAndGlyphs">29 Aug 2022</text>
<text x="577.5" y="610" font-size="10" fill="#000" stroke="#000" stroke-width="0.2" textLength="46.5" lengthAdjust="spacingAndGlyphs">7 Sep 2022</text>
<text x="641.5" y="610" font-size="10" fill="#000" stroke="#000" stroke-width="0.2" textLength="50.8" lengthAdjust="spacingAndGlyphs">16 Sep 2022</text>
<text x="705.5" y="610" font-size="10" fill="#000" stroke="#000" stroke-width="0.2" textLength="51.4" lengthAdjust="spacingAndGlyphs">26 Sep 2022</text>
<text x="769.5" y="610" font-size="10" fill="#000" stroke="#000" stroke-width="0.2" textLength="44.9" lengthAdjust="spacingAndGlyphs">5 Oct 2022</text>
<text x="833.5" y="610" font-size="10" fill="#000" stroke="#000" stroke-width="0.2" textLength="50.6" lengthAdjust="spacingAndGlyphs">14 Oct 2022</text>
<text x="897.5" y="610" font-size="10" fill="#000" stroke="#000" stroke-width="0.2" textLength="51" lengthAdjust="spacingAndGlyphs">24 Oct 2022</text>
<g shape-rendering="crispEdges">
<rect x="0" y="618" width="1205" height="1" fill="#e3e3e3"/>
<rect x="0" y="619" width="1205" height="1" fill="#f4f4f4"/>
<rect x="0" y="620" width="1205" height="21" fill="#f0f0f0"/>
<rect x="0" y="641" width="1205" height="3" fill="#f7f7f7"/>
<rect x="0" y="620" width="1205" height="1" fill="#000"/>
<rect x="92" y="619" width="106" height="19" fill="#fff"/>
<rect x="91" y="620" width="1" height="19" fill="#000"/>
<rect x="198" y="620" width="1" height="19" fill="#000"/>
<rect x="91" y="638" width="108" height="1" fill="#000"/>
<rect x="307" y="624" width="1" height="13" fill="#8a8a8a"/>
<rect x="415" y="624" width="1" height="13" fill="#8a8a8a"/>
<rect x="523" y="624" width="1" height="13" fill="#8a8a8a"/>
<rect x="635" y="624" width="1" height="13" fill="#8a8a8a"/>
<rect x="711" y="624" width="1" height="13" fill="#8a8a8a"/>
<rect x="803" y="624" width="1" height="13" fill="#8a8a8a"/>
<rect x="895" y="624" width="1" height="13" fill="#8a8a8a"/>
<rect x="975" y="624" width="1" height="13" fill="#8a8a8a"/>
<rect x="1071" y="624" width="1" height="13" fill="#8a8a8a"/>
<rect x="1163" y="624" width="1" height="13" fill="#8a8a8a"/>
</g>
<text x="14.8" y="635" font-size="12.6" fill="#747474" textLength="64.5" lengthAdjust="spacingAndGlyphs" stroke="#f0f0f0" stroke-width="0.15">USDX,Daily</text>
<text x="102.1" y="635" font-size="12.6" fill="#000" textLength="85.1" lengthAdjust="spacingAndGlyphs" stroke="#fff" stroke-width="0.08">EURUSD-,Daily</text>
<text x="208.7" y="635" font-size="12.6" fill="#747474" textLength="87.6" lengthAdjust="spacingAndGlyphs" stroke="#f0f0f0" stroke-width="0.15">AUDUSD-,Daily</text>
<text x="318.7" y="635" font-size="12.6" fill="#747474" textLength="84.8" lengthAdjust="spacingAndGlyphs" stroke="#f0f0f0" stroke-width="0.15">USDCHF-,Daily</text>
<text x="426" y="635" font-size="12.6" fill="#747474" textLength="86.2" lengthAdjust="spacingAndGlyphs" stroke="#f0f0f0" stroke-width="0.15">USDCAD-,Daily</text>
<text x="535" y="635" font-size="12.6" fill="#747474" textLength="88.5" lengthAdjust="spacingAndGlyphs" stroke="#f0f0f0" stroke-width="0.15">USDCNH-,Daily</text>
<text x="645.1" y="635" font-size="12.6" fill="#747474" textLength="54.6" lengthAdjust="spacingAndGlyphs" stroke="#f0f0f0" stroke-width="0.15">HK50-,H1</text>
<text x="720.4" y="635" font-size="12.6" fill="#747474" textLength="71.5" lengthAdjust="spacingAndGlyphs" stroke="#f0f0f0" stroke-width="0.15">EURCHF-,H1</text>
<text x="814.9" y="635" font-size="12.6" fill="#747474" textLength="68.1" lengthAdjust="spacingAndGlyphs" stroke="#f0f0f0" stroke-width="0.15">USOil-,Daily</text>
<text x="906" y="635" font-size="12.6" fill="#747474" textLength="57.4" lengthAdjust="spacingAndGlyphs" stroke="#f0f0f0" stroke-width="0.15">UKOil-,H4</text>
<text x="985.3" y="635" font-size="12.6" fill="#747474" textLength="74.9" lengthAdjust="spacingAndGlyphs" stroke="#f0f0f0" stroke-width="0.15">XAUUSD-,H1</text>
<text x="1081.8" y="635" font-size="12.6" fill="#747474" textLength="70.1" lengthAdjust="spacingAndGlyphs" stroke="#f0f0f0" stroke-width="0.15">UKOil-,Daily</text>
<polygon points="1183.5,626 1183.5,633 1179.5,629.5" fill="#a8a8a8"/>
<polygon points="1198.5,626 1198.5,633 1202.5,629.5" fill="#707070"/>
</svg>
</body></html>
